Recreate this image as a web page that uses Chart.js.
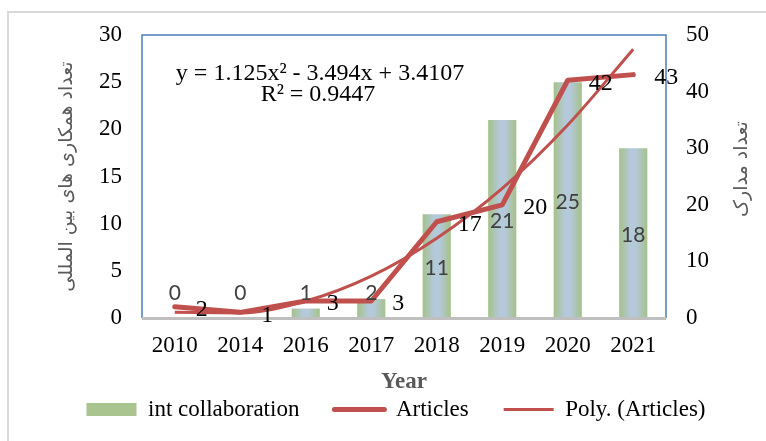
<!DOCTYPE html>
<html>
<head>
<meta charset="utf-8">
<script src="https://cdn.jsdelivr.net/npm/chart.js@4.4.0/dist/chart.umd.min.js"></script>
<style>
  html, body { margin: 0; padding: 0; background: #fff; }
</style>
</head>
<body>
<canvas id="chart" width="766" height="441"></canvas>
<script>
// values
const years = ['2010', '2014', '2016', '2017', '2018', '2019', '2020', '2021']
const collaboration = [0, 0, 1, 2, 11, 21, 25, 18]
const articles = [2, 1, 3, 3, 17, 20, 42, 43]
const polyArticles = [1.0, 0.9, 3.0, 7.4, 14.1, 22.9, 34.1, 47.5]
const equation = ['y = 1.125x² - 3.494x + 3.4107', 'R² = 0.9447']
const rightTitle = 'تعداد مدارک'

const red = '#c0504d'
const serif = "'Liberation Serif', 'Times New Roman', serif"
const sans = "Lato, 'Open Sans', sans-serif"
const barPct = 0.43

function barFill(context) {
  const chart = context.chart
  const x = chart.scales.x
  if (context.type !== 'data' || !x) return '#b0c6a6'
  const cx = x.getPixelForValue(context.dataIndex)
  const w = x.width / years.length * barPct
  if (!isFinite(cx) || !isFinite(w) || w <= 0) return '#b0c6a6'
  const g = chart.ctx.createLinearGradient(cx - w / 2, 0, cx + w / 2, 0)
  g.addColorStop(0, '#a5c189')
  g.addColorStop(0.4, '#b4c9d9')
  g.addColorStop(0.6, '#b4c9d9')
  g.addColorStop(1, '#a5c189')
  return g
}

// frame, equation and data labels
const decor = {
  id: 'decor',
  afterLayout(chart) {
    // legend sits a little right of centre in the original
    chart.legend.left += 13
    chart.legend.right += 13
  },
  beforeDraw(chart) {
    const c = chart.ctx
    c.save()
    c.fillStyle = '#fff'
    c.fillRect(0, 0, chart.width, chart.height)
    c.strokeStyle = '#d9d9d9'
    c.lineWidth = 2
    c.strokeRect(8, 12, chart.width + 20, chart.height + 20)
    c.restore()
  },
  beforeDatasetsDraw(chart) {
    const c = chart.ctx
    const a = chart.chartArea
    c.save()
    c.strokeStyle = '#4a7ebb'
    c.lineWidth = 1.5
    c.beginPath()
    c.moveTo(a.left, a.bottom)
    c.lineTo(a.left, a.top)
    c.lineTo(a.right, a.top)
    c.lineTo(a.right, a.bottom)
    c.stroke()
    c.restore()
  },
  afterDatasetsDraw(chart) {
    const c = chart.ctx
    const a = chart.chartArea
    c.save()
    c.strokeStyle = '#bfbfbf'
    c.lineWidth = 3
    c.beginPath()
    c.moveTo(a.left, a.bottom + 0.5)
    c.lineTo(a.right, a.bottom + 0.5)
    c.stroke()

    // bar labels
    c.font = '21px ' + sans
    c.fillStyle = '#404040'
    c.textAlign = 'center'
    c.textBaseline = 'middle'
    chart.getDatasetMeta(0).data.forEach((el, i) => {
      const y = Math.min((el.y + el.base) / 2 + 2, a.bottom - 25)
      c.fillText(String(collaboration[i]), el.x, y)
    })

    // article labels
    c.font = '24px ' + serif
    c.fillStyle = '#000'
    c.textAlign = 'left'
    chart.getDatasetMeta(1).data.forEach((el, i) => {
      c.fillText(String(articles[i]), el.x + 21, el.y + 3)
    })

    // trend equation
    c.font = '24px ' + serif
    c.textAlign = 'center'
    c.fillText(equation[0], 320, 74)
    c.fillText(equation[1], 318, 95)

    // right axis title, turned the same way as the left one
    c.font = '19px DejaVu Sans'
    c.fillStyle = '#595959'
    c.translate(742, 169)
    c.rotate(-Math.PI / 2)
    c.fillText(rightTitle, 0, 0)
    c.restore()
  }
}

new Chart(document.getElementById('chart'), {
  data: {
    labels: years,
    datasets: [{
      type: 'bar',
      label: 'int collaboration',
      data: collaboration,
      yAxisID: 'y',
      backgroundColor: barFill,
      barPercentage: barPct,
      categoryPercentage: 1,
      order: 2
    }, {
      type: 'line',
      label: 'Articles',
      data: articles,
      yAxisID: 'y1',
      borderColor: red,
      borderWidth: 5,
      borderJoinStyle: 'round',
      borderCapStyle: 'round',
      pointRadius: 0,
      order: 1
    }, {
      type: 'line',
      label: 'Poly. (Articles)',
      data: polyArticles,
      yAxisID: 'y1',
      borderColor: red,
      borderWidth: 3,
      cubicInterpolationMode: 'monotone',
      pointRadius: 0,
      order: 0
    }]
  },
  options: {
    responsive: false,
    animation: false,
    layout: { padding: { top: 35, bottom: 10, left: 0, right: 0 } },
    plugins: {
      tooltip: { enabled: false },
      legend: {
        position: 'bottom',
        labels: {
          usePointStyle: true,
          pointStyleWidth: 50,
          boxHeight: 13,
          padding: 35,
          color: '#595959',
          font: { family: serif, size: 23 },
          generateLabels: () => [
            { text: 'int collaboration', fillStyle: '#a9c48f', strokeStyle: '#a9c48f', lineWidth: 0, pointStyle: 'rect', datasetIndex: 0, hidden: false },
            { text: 'Articles', fillStyle: red, strokeStyle: red, lineWidth: 5, lineCap: 'round', pointStyle: 'line', datasetIndex: 1, hidden: false },
            { text: 'Poly. (Articles)', fillStyle: red, strokeStyle: red, lineWidth: 3, pointStyle: 'line', datasetIndex: 2, hidden: false }
          ]
        }
      }
    },
    scales: {
      x: {
        offset: true,
        grid: { display: false, drawTicks: false },
        border: { display: false },
        ticks: { color: '#000', font: { family: serif, size: 23 }, padding: 14, maxRotation: 0 },
        title: { display: true, text: 'Year', color: '#595959', font: { family: serif, size: 23, weight: 'bold' }, padding: { top: 0, bottom: -33 } },
        afterFit: s => { s.height = 45 }
      },
      y: {
        position: 'left',
        min: 0,
        max: 30,
        grid: { display: false, drawTicks: false },
        border: { display: false },
        ticks: { stepSize: 5, color: '#000', font: { family: serif, size: 23 }, padding: 20 },
        title: { display: true, text: 'تعداد همکاری های بین المللی', color: '#595959', font: { family: 'DejaVu Sans', size: 19 }, padding: { top: 56, bottom: 0 } },
        afterFit: s => { s.width = 142 }
      },
      y1: {
        position: 'right',
        min: 0,
        max: 50,
        grid: { display: false, drawTicks: false },
        border: { display: false },
        ticks: { stepSize: 10, color: '#000', font: { family: serif, size: 23 }, padding: 20 },
        afterFit: s => { s.width = 100 }
      }
    }
  },
  plugins: [decor]
})
</script>
</body>
</html>
